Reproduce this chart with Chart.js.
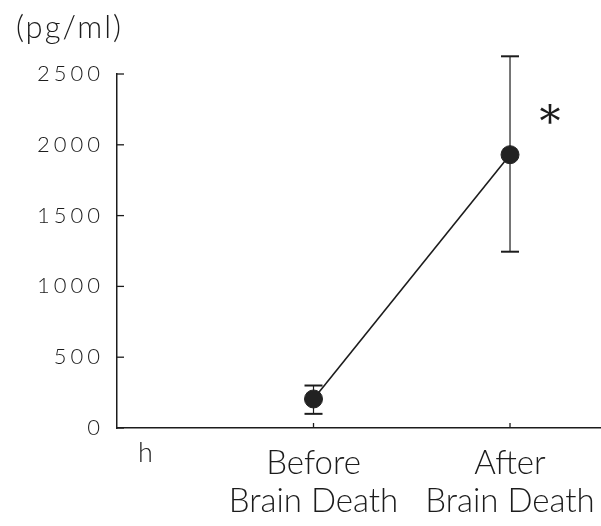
<!DOCTYPE html>
<html>
<head>
<meta charset="utf-8">
<script src="https://cdn.jsdelivr.net/npm/chart.js@4"></script>
<style>
  html, body { margin: 0; padding: 0; background: #fff; }
  #wrap { width: 601px; height: 526px; }
</style>
</head>
<body>
<div id="wrap"><canvas id="c" width="601" height="526"></canvas></div>
<script>
// Plasma level before and after brain death (mean with error range)
const categories = [['Before', 'Brain Death'], ['After', 'Brain Death']];
const categoryPositions = [1, 2];
const meanValues = [205, 1930];
const upperValues = [300, 2625];
const lowerValues = [100, 1245];
const yTickValues = [0, 500, 1000, 1500, 2000, 2500];
const unitLabel = '(pg/ml)';
const significanceMark = '*';

const ink = '#1c1c1c';
const lightFont = 'Lato';

// Inward tick marks, error bars and free text annotations
const decorations = {
  id: 'decorations',
  afterLayout(chart) {
    // wider digit spacing on the value axis labels
    const y = chart.scales.y;
    if (!y._spaced) {
      const orig = y.drawLabels;
      y.drawLabels = function (area) {
        const ctx = this.ctx;
        ctx.save();
        ctx.letterSpacing = '4px';
        ctx.translate(4, 0);
        orig.call(this, area);
        ctx.restore();
      };
      y._spaced = true;
    }
  },
  beforeDatasetsDraw(chart) {
    const { ctx, scales: { x, y } } = chart;
    ctx.save();
    ctx.strokeStyle = ink;
    ctx.lineWidth = 1.3;
    // y ticks pointing into the plot
    yTickValues.forEach(v => {
      const py = y.getPixelForValue(v);
      ctx.beginPath();
      ctx.moveTo(x.left, py);
      ctx.lineTo(x.left + 7, py);
      ctx.stroke();
    });
    // small x ticks
    categoryPositions.forEach(v => {
      const px = x.getPixelForValue(v);
      ctx.beginPath();
      ctx.moveTo(px, y.bottom);
      ctx.lineTo(px, y.bottom - 5);
      ctx.stroke();
    });
    // error bars
    categoryPositions.forEach((v, i) => {
      const px = x.getPixelForValue(v);
      const top = y.getPixelForValue(upperValues[i]);
      const bot = y.getPixelForValue(lowerValues[i]);
      ctx.lineWidth = 1.2;
      ctx.beginPath();
      ctx.moveTo(px, top);
      ctx.lineTo(px, bot);
      ctx.stroke();
      ctx.lineWidth = 2;
      [top, bot].forEach(py => {
        ctx.beginPath();
        ctx.moveTo(px - 9, py);
        ctx.lineTo(px + 9, py);
        ctx.stroke();
      });
    });
    ctx.restore();
  },
  afterDraw(chart) {
    const { ctx, scales: { x, y } } = chart;
    ctx.save();
    ctx.fillStyle = ink;
    ctx.textBaseline = 'alphabetic';
    ctx.textAlign = 'left';
    ctx.font = '300 31px ' + lightFont;
    ctx.letterSpacing = '2px';
    ctx.fillText(unitLabel, 16, 38);
    ctx.letterSpacing = '0px';
    ctx.font = '300 27px ' + lightFont;
    ctx.fillText('h', 138, 462);
    ctx.font = '42px "DejaVu Serif"';
    ctx.textAlign = 'center';
    ctx.fillText(significanceMark, x.getPixelForValue(2) + 40, y.getPixelForValue(2060));
    ctx.restore();
  }
};

new Chart(document.getElementById('c'), {
  type: 'line',
  data: {
    datasets: [{
      data: categoryPositions.map((v, i) => ({ x: v, y: meanValues[i] })),
      borderColor: ink,
      borderWidth: 1.6,
      pointRadius: 9,
      pointBackgroundColor: '#222',
      pointBorderColor: '#222',
      pointBorderWidth: 1,
      tension: 0,
      fill: false
    }]
  },
  options: {
    responsive: false,
    animation: false,
    layout: { autoPadding: false, padding: { top: 74, right: 0, bottom: 0, left: 0 } },
    plugins: { legend: { display: false }, tooltip: { enabled: false } },
    scales: {
      x: {
        type: 'linear',
        min: 0,
        max: 2.463,
        afterBuildTicks: s => { s.ticks = categoryPositions.map(v => ({ value: v })); },
        afterFit: s => { s.height = 98; s.paddingLeft = 0; s.paddingRight = 0; },
        grid: { display: false, drawTicks: false },
        border: { display: true, color: ink, width: 1.5 },
        ticks: {
          autoSkip: false,
          maxRotation: 0,
          padding: 16,
          color: ink,
          font: { family: lightFont, size: 33, weight: 300, lineHeight: 1.15 },
          callback: v => categories[categoryPositions.indexOf(v)] || ''
        }
      },
      y: {
        min: 0,
        max: 2500,
        afterBuildTicks: s => { s.ticks = yTickValues.map(v => ({ value: v })); },
        afterFit: s => { s.width = 117; s.paddingTop = 0; s.paddingBottom = 0; },
        grid: { display: false, drawTicks: false },
        border: { display: true, color: ink, width: 1.5 },
        ticks: {
          padding: 17,
          color: ink,
          font: { family: lightFont, size: 22, weight: 300 },
          callback: v => String(v)
        }
      }
    }
  },
  plugins: [decorations]
});
</script>
</body>
</html>
